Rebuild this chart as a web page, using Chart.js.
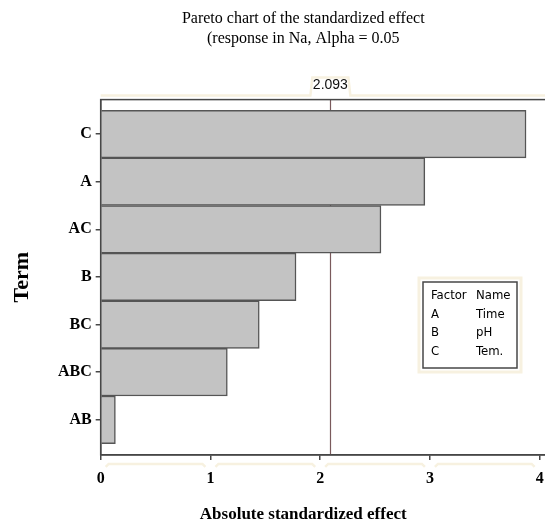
<!DOCTYPE html>
<html>
<head>
<meta charset="utf-8">
<script src="https://cdn.jsdelivr.net/npm/chart.js@4.4.1/dist/chart.umd.min.js"></script>
<style>
  html, body { margin: 0; padding: 0; background: #fff; overflow: hidden; }
  #wrap { width: 640px; height: 530px; }
</style>
</head>
<body>
<div id="wrap"><canvas id="myChart" width="640" height="530"></canvas></div>
<script>
// data
const terms = ['C', 'A', 'AC', 'B', 'BC', 'ABC', 'AB'];
const effects = [3.876, 2.954, 2.554, 1.780, 1.445, 1.154, 0.134];
const xTicks = [0, 1, 2, 3, 4];
const critical = 2.093;
const factorCodes = ['A', 'B', 'C'];
const factorNames = ['Time', 'pH', 'Tem.'];

const cream = '#f7f1e0';
const frameColor = '#474747';

// vertical reference line, under the bars
const refLine = {
    id: 'refLine',
    beforeDatasetsDraw(chart) {
        const {ctx, chartArea, scales} = chart;
        const x = Math.round(scales.x.getPixelForValue(critical)) + 0.5;
        ctx.save();
        ctx.strokeStyle = '#7a5a5c';
        ctx.lineWidth = 1.2;
        ctx.beginPath();
        ctx.moveTo(x, chartArea.top);
        ctx.lineTo(x, chartArea.bottom);
        ctx.stroke();
        ctx.restore();
    },
    afterDraw(chart) {
        const {ctx, chartArea, scales} = chart;
        const x = scales.x.getPixelForValue(critical);
        ctx.save();

        // cream halo bits
        ctx.strokeStyle = cream;
        ctx.lineWidth = 2.5;
        ctx.beginPath();
        ctx.moveTo(chartArea.left, chartArea.top - 4);
        ctx.lineTo(x - 20, chartArea.top - 4);
        ctx.lineTo(x - 18, chartArea.top - 22);
        ctx.lineTo(x + 18, chartArea.top - 22);
        ctx.lineTo(x + 20, chartArea.top - 4);
        ctx.lineTo(chartArea.right, chartArea.top - 4);
        ctx.stroke();
        xTicks.slice(0, -1).forEach((t) => {
            const a = scales.x.getPixelForValue(t) + 5;
            const b = scales.x.getPixelForValue(t + 1) - 5;
            const yb = chartArea.bottom + 9;
            ctx.beginPath();
            ctx.moveTo(a, yb + 3);
            ctx.lineTo(a + 3, yb);
            ctx.lineTo(b - 3, yb);
            ctx.lineTo(b, yb + 3);
            ctx.stroke();
        });

        // frame
        ctx.strokeStyle = frameColor;
        ctx.lineWidth = 1.5;
        ctx.strokeRect(chartArea.left, chartArea.top, chartArea.right - chartArea.left, chartArea.bottom - chartArea.top);

        // critical value label
        ctx.fillStyle = '#111';
        ctx.font = '14px "Liberation Sans", sans-serif';
        ctx.textAlign = 'center';
        ctx.textBaseline = 'middle';
        ctx.fillText(critical.toFixed(3), x, chartArea.top - 14);

        // factor legend box
        const bx = 423, by = 282, bw = 94, bh = 86;
        ctx.strokeStyle = cream;
        ctx.lineWidth = 3;
        ctx.strokeRect(bx - 4, by - 4, bw + 8, bh + 8);
        ctx.fillStyle = '#fff';
        ctx.fillRect(bx, by, bw, bh);
        ctx.strokeStyle = frameColor;
        ctx.lineWidth = 1.5;
        ctx.strokeRect(bx, by, bw, bh);
        ctx.fillStyle = '#000';
        ctx.font = '13px "DejaVu Sans Condensed", "Liberation Sans Narrow", "Liberation Sans", sans-serif';
        ctx.textAlign = 'left';
        const rows = [['Factor', 'Name']].concat(factorCodes.map((c, i) => [c, factorNames[i]]));
        rows.forEach((r, i) => {
            const yy = by + 14 + i * 18.5;
            ctx.fillText(r[0], bx + 8, yy);
            ctx.fillText(r[1], bx + 53, yy);
        });
        ctx.restore();
    }
};

const ctx = document.getElementById('myChart').getContext('2d');
const chart = new Chart(ctx, {
    type: 'bar',
    data: {
        datasets: [{
            data: effects.map((v, i) => ({x: v, y: i})),
            backgroundColor: '#c3c3c3',
            borderColor: '#555555',
            borderWidth: 1.5,
            categoryPercentage: 1,
            barPercentage: 1
        }]
    },
    options: {
        indexAxis: 'y',
        responsive: false,
        animation: false,
        layout: { padding: { left: 6.5, right: 40 } },
        plugins: {
            legend: { display: false },
            tooltip: { enabled: false },
            title: {
                display: true,
                text: ['Pareto chart of the standardized effect', '(response in Na, Alpha = 0.05'],
                color: '#000',
                font: { family: '"Liberation Serif", serif', size: 16, weight: 'normal', lineHeight: 1.3 },
                padding: { top: 8, bottom: 50 }
            },
            subtitle: {
                display: true,
                position: 'bottom',
                text: 'Absolute standardized effect',
                color: '#000',
                font: { family: '"Liberation Serif", serif', size: 17, weight: 'bold', lineHeight: 1.2 },
                padding: { top: 7.5, bottom: 5 }
            }
        },
        scales: {
            x: {
                type: 'linear',
                min: 0,
                max: 4.55,
                afterBuildTicks: (axis) => { axis.ticks = xTicks.map(v => ({value: v})); },
                grid: { drawOnChartArea: false, drawTicks: true, tickLength: 5, color: frameColor, lineWidth: 1.5 },
                border: { display: true, color: frameColor, width: 1.5 },
                ticks: {
                    color: '#000',
                    padding: 9,
                    maxRotation: 0,
                    font: { family: '"Liberation Serif", serif', size: 16, weight: 'bold' }
                }
            },
            y: {
                type: 'linear',
                reverse: true,
                offset: false,
                min: -0.725,
                max: 6.738,
                afterBuildTicks: (axis) => { axis.ticks = terms.map((t, i) => ({value: i})); },
                grid: { offset: false, drawOnChartArea: false, drawTicks: true, tickLength: 5, color: frameColor, lineWidth: 1.5 },
                border: { display: true, color: frameColor, width: 1.5 },
                title: {
                    display: true,
                    text: 'Term',
                    color: '#000',
                    font: { family: '"Liberation Serif", serif', size: 22, weight: 'bold' },
                    padding: { top: 3, bottom: 18 }
                },
                ticks: {
                    color: '#000',
                    padding: 4,
                    autoSkip: false,
                    font: { family: '"Liberation Serif", serif', size: 16, weight: 'bold' },
                    callback: (v) => terms[v]
                }
            }
        }
    },
    plugins: [refLine]
});
</script>
</body>
</html>
